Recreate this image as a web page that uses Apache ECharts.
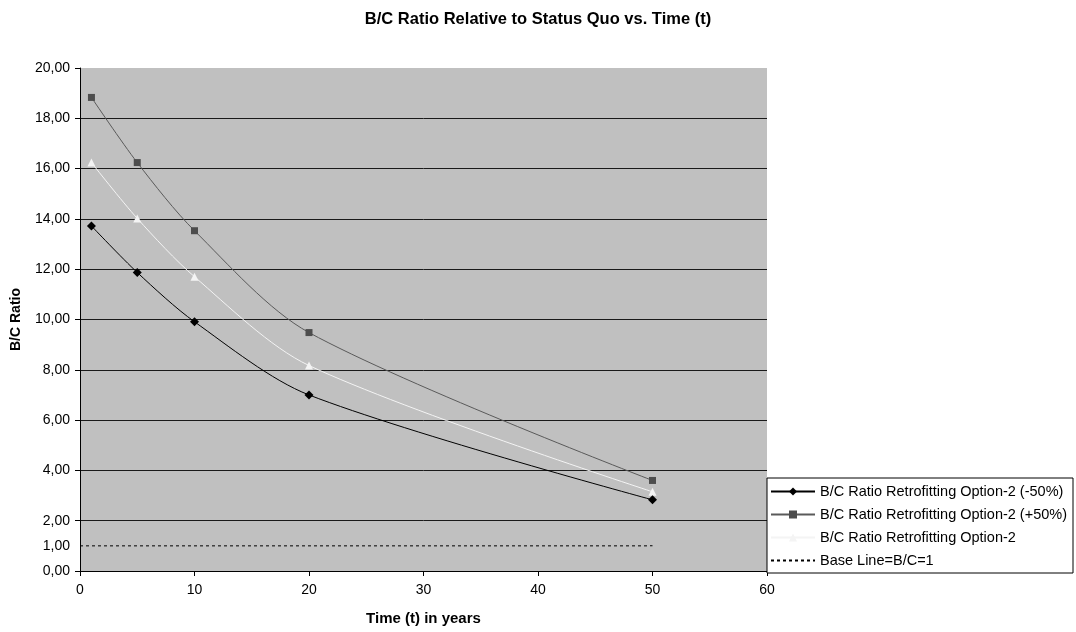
<!DOCTYPE html>
<html>
<head>
<meta charset="utf-8">
<script src="https://cdn.jsdelivr.net/npm/echarts@6/dist/echarts.min.js"></script>
<style>
  html, body { margin: 0; padding: 0; background: #fff; }
  #chart { width: 1076px; height: 632px; }
</style>
</head>
<body>
<div id="chart"></div>
<script>
const years = [1, 5, 10, 20, 50];
const minus50 = [13.72, 11.87, 9.91, 7.0, 2.83];
const plus50 = [18.83, 16.24, 13.53, 9.48, 3.6];
const option2 = [16.24, 14.02, 11.7, 8.17, 3.15];
const baseYears = [0, 50];
const baseValues = [1, 1];

const names = [
  "B/C Ratio Retrofitting Option-2 (-50%)",
  "B/C Ratio Retrofitting Option-2 (+50%)",
  "B/C Ratio Retrofitting Option-2",
  "Base Line=B/C=1",
];

const font = "'Liberation Sans', Arial, sans-serif";
const pairs = (xs, ys) => xs.map((x, i) => [x, ys[i]]);
const fmt = (v) => v.toFixed(2).replace(".", ",");

const chart = echarts.init(document.getElementById("chart"));

const option = {
  animation: false,
  textStyle: { fontFamily: font },
  title: {
    text: "B/C Ratio Relative to Status Quo vs. Time (t)",
    left: "center",
    top: 6,
    textStyle: { fontFamily: font, fontSize: 16.5, fontWeight: "bold", color: "#000" },
  },
  grid: {
    left: 80,
    right: 309,
    top: 68,
    bottom: 61,
    show: true,
    backgroundColor: "#c0c0c0",
    borderWidth: 0,
  },
  legend: {
    orient: "vertical",
    left: 767,
    top: 478,
    padding: [6, 6, 5, 3],
    itemGap: 8,
    itemWidth: 44,
    itemHeight: 10,
    backgroundColor: "#fff",
    borderColor: "#000",
    borderWidth: 1,
    textStyle: { fontFamily: font, fontSize: 14.5, color: "#000" },
    data: names,
  },
  xAxis: {
    type: "value",
    min: 0,
    max: 60,
    interval: 10,
    name: "Time (t) in years",
    nameLocation: "middle",
    nameGap: 40,
    nameTextStyle: { fontFamily: font, fontSize: 15, fontWeight: "bold", color: "#000" },
    axisLine: { onZero: false, lineStyle: { color: "#000" } },
    axisTick: { length: 5, lineStyle: { color: "#000" } },
    axisLabel: { margin: 12, fontSize: 14, color: "#000" },
    splitLine: { show: false },
  },
  yAxis: [
    {
      type: "value",
      min: 0,
      max: 20,
      interval: 2,
      name: "B/C Ratio",
      nameLocation: "middle",
      nameGap: 57,
      nameTextStyle: { fontFamily: font, fontSize: 14, fontWeight: "bold", color: "#000" },
      axisLine: { show: true, lineStyle: { color: "#000" } },
      axisTick: { show: true, length: 5, lineStyle: { color: "#000" } },
      axisLabel: { margin: 10, fontSize: 14, color: "#000", formatter: fmt },
      splitLine: { show: true, showMinLine: false, showMaxLine: false, lineStyle: { color: "#1a1a1a", width: 1 } },
    },
    {
      type: "value",
      position: "left",
      min: 0,
      max: 20,
      interval: 1,
      axisLine: { show: false },
      axisTick: { show: false },
      splitLine: { show: false },
      axisLabel: {
        margin: 10,
        fontSize: 14,
        color: "#000",
        formatter: (v) => (v === 1 ? fmt(v) : ""),
      },
    },
  ],
  series: [
    {
      name: names[0],
      type: "line",
      smooth: 0.3,
      data: pairs(years, minus50),
      symbol: "diamond",
      symbolSize: 9,
      itemStyle: { color: "#000" },
      lineStyle: { color: "#000", width: 1 },
      z: 4,
    },
    {
      name: names[1],
      type: "line",
      smooth: 0.3,
      data: pairs(years, plus50),
      symbol: "rect",
      symbolSize: 7,
      itemStyle: { color: "#4d4d4d" },
      lineStyle: { color: "#5a5a5a", width: 1 },
      z: 3,
    },
    {
      name: names[2],
      type: "line",
      smooth: 0.3,
      data: pairs(years, option2),
      symbol: "triangle",
      symbolSize: 8,
      itemStyle: { color: "#f4f4f4" },
      lineStyle: { color: "#f4f4f4", width: 1 },
      z: 3,
    },
    {
      name: names[3],
      type: "line",
      data: pairs(baseYears, baseValues),
      symbol: "none",
      itemStyle: { color: "rgba(0,0,0,0)" },
      lineStyle: { color: "#000", width: 1, type: [3, 3] },
      z: 2,
    },
  ],
};

chart.setOption(option);
</script>
</body>
</html>
